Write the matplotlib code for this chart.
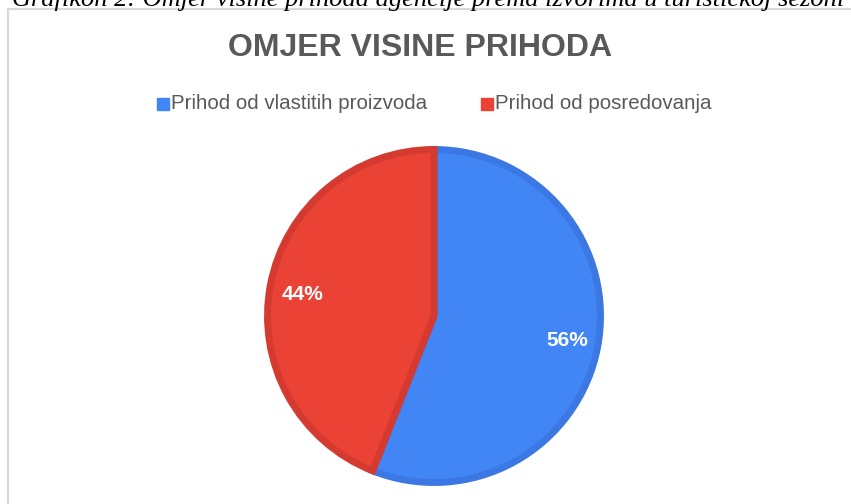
import matplotlib.pyplot as plt
from matplotlib.patches import Rectangle

labels = ['Prihod od vlastitih proizvoda', 'Prihod od posredovanja']
shares = [56, 44]
colors = ['#4285F4', '#EA4335']
edge_colors = ['#3B78E3', '#D43A2F']

W, H = 851, 504
fig = plt.figure(figsize=(W / 100, H / 100), dpi=100)
fig.patch.set_facecolor('white')

# caption clipped at the top of the page
fig.text(12 / W, 1 - 6 / H, 'Grafikon 2: Omjer visine prihoda agencije prema izvorima u turističkoj sezoni',
         fontsize=19, fontstyle='italic', family='Liberation Serif', color='black',
         ha='left', va='baseline')

# chart frame
fig.patches.append(Rectangle((8 / W, -0.1), 1.2, 1 - 9 / H + 0.1, transform=fig.transFigure,
                             fill=False, edgecolor='#d9d9d9', lw=1.5))

fig.text(420 / W, 1 - 48 / H, 'OMJER VISINE PRIHODA', fontsize=23, fontweight='bold',
         family='Liberation Sans', color='#595959', ha='center', va='center')

# legend
leg_y = 1 - 104 / H
for x0, lab, c in [(157, labels[0], colors[0]), (481, labels[1], colors[1])]:
    fig.patches.append(Rectangle((x0 / W, leg_y - 6 / H), 12 / W, 12 / H,
                                 transform=fig.transFigure, color=c))
    fig.text((x0 + 14) / W, leg_y, lab, fontsize=14.8, family='Liberation Sans',
             color='#595959', ha='left', va='center')

# pie
cx, cy, R = 434, 316, 170
ax = fig.add_axes([(cx - R) / W, (H - cy - R) / H, 2 * R / W, 2 * R / H])
wedges, _ = ax.pie(shares, colors=colors, startangle=90, counterclock=False,
                   radius=1 - 3.5 / R,
                   wedgeprops=dict(linewidth=5, joinstyle='miter'))
for w, ec in zip(wedges, edge_colors):
    w.set_edgecolor(ec)
ax.set_xlim(-1, 1)
ax.set_ylim(-1, 1)
ax.axis('off')

fig.text(567 / W, 1 - 340 / H, '56%', fontsize=15, fontweight='bold',
         family='Liberation Sans', color='white', ha='center', va='center')
fig.text(303 / W, 1 - 295 / H, '44%', fontsize=15, fontweight='bold',
         family='Liberation Sans', color='white', ha='center', va='center')

fig.savefig('out.png', dpi=100)
